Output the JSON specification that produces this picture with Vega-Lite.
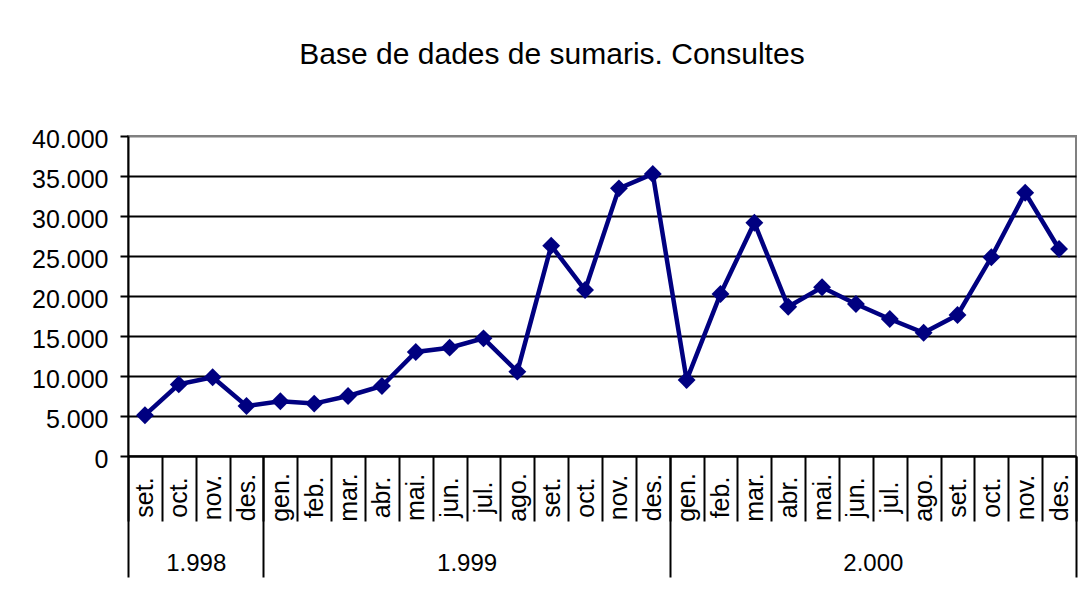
{
  "$schema": "https://vega.github.io/schema/vega-lite/v6.json",
  "width": 948,
  "height": 320,
  "autosize": {"type": "none"},
  "padding": {"left": 128, "top": 136, "right": 9, "bottom": 143},
  "background": "white",
  "title": {
    "text": "Base de dades de sumaris. Consultes",
    "font": "Liberation Sans",
    "fontSize": 30,
    "fontWeight": "normal",
    "color": "black",
    "anchor": "middle",
    "frame": "group",
    "dx": -50,
    "offset": 57
  },
  "config": {
    "locale": {"number": {"decimal": ",", "thousands": ".", "grouping": [3], "currency": ["", " €"]}},
    "view": {"stroke": "#808080", "strokeWidth": 2},
    "font": "Liberation Sans"
  },
  "layer": [
    {
      "data": {"values": [
        {"periode": "set. 1998", "consultes": 5100},
        {"periode": "oct. 1998", "consultes": 8950},
        {"periode": "nov. 1998", "consultes": 9850},
        {"periode": "des. 1998", "consultes": 6250},
        {"periode": "gen. 1999", "consultes": 6850},
        {"periode": "feb. 1999", "consultes": 6550},
        {"periode": "mar. 1999", "consultes": 7500},
        {"periode": "abr. 1999", "consultes": 8750},
        {"periode": "mai. 1999", "consultes": 13000},
        {"periode": "jun. 1999", "consultes": 13540},
        {"periode": "jul. 1999", "consultes": 14710},
        {"periode": "ago. 1999", "consultes": 10540},
        {"periode": "set. 1999", "consultes": 26290},
        {"periode": "oct. 1999", "consultes": 20750},
        {"periode": "nov. 1999", "consultes": 33460},
        {"periode": "des. 1999", "consultes": 35250},
        {"periode": "gen. 2000", "consultes": 9500},
        {"periode": "feb. 2000", "consultes": 20250},
        {"periode": "mar. 2000", "consultes": 29160},
        {"periode": "abr. 2000", "consultes": 18660},
        {"periode": "mai. 2000", "consultes": 21090},
        {"periode": "jun. 2000", "consultes": 19000},
        {"periode": "jul. 2000", "consultes": 17125},
        {"periode": "ago. 2000", "consultes": 15410},
        {"periode": "set. 2000", "consultes": 17625},
        {"periode": "oct. 2000", "consultes": 24840},
        {"periode": "nov. 2000", "consultes": 32910},
        {"periode": "des. 2000", "consultes": 25875}
      ]},
      "encoding": {
        "x": {
          "field": "periode",
          "type": "ordinal",
          "sort": null,
          "scale": {"type": "band", "paddingInner": 0, "paddingOuter": 0},
          "axis": {
            "orient": "bottom",
            "title": null,
            "labelExpr": "split(datum.label, ' ')[0]",
            "labelAngle": 270,
            "labelAlign": "center",
            "labelBaseline": "middle",
            "labelPadding": -24,
            "labelFontSize": 25,
            "labelColor": "black",
            "labelOverlap": false,
            "tickBand": "extent",
            "tickSize": 65,
            "tickColor": "black",
            "tickWidth": 2,
            "domainColor": "black",
            "domainWidth": 2,
            "grid": false
          }
        },
        "y": {
          "field": "consultes",
          "type": "quantitative",
          "scale": {"domain": [0, 40000], "nice": false},
          "axis": {
            "title": null,
            "values": [0, 5000, 10000, 15000, 20000, 25000, 30000, 35000, 40000],
            "format": ",d",
            "labelFontSize": 25,
            "labelColor": "black",
            "labelPadding": 12,
            "labelOffset": 3,
            "tickSize": 8,
            "tickColor": "black",
            "tickWidth": 2,
            "domainColor": "black",
            "domainWidth": 2,
            "grid": true,
            "gridColor": {"condition": {"test": "datum.value >= 40000", "value": "#808080"}, "value": "black"},
            "gridWidth": 2
          }
        }
      },
      "layer": [
        {"mark": {"type": "line", "color": "#000080", "strokeWidth": 4.5}},
        {"mark": {"type": "point", "shape": "diamond", "filled": true, "color": "#000080", "size": 320, "opacity": 1}}
      ]
    },
    {
      "data": {"values": [
        {"any": "1.998", "inici": 0, "fi": 4, "mig": 2},
        {"any": "1.999", "inici": 4, "fi": 16, "mig": 10},
        {"any": "2.000", "inici": 16, "fi": 28, "mig": 22}
      ]},
      "mark": {"type": "point", "opacity": 0},
      "encoding": {
        "x": {
          "field": "inici",
          "type": "quantitative",
          "scale": {"domain": [0, 28], "nice": false, "zero": false},
          "axis": {
            "orient": "bottom",
            "title": null,
            "values": [0, 4, 16, 28],
            "labels": false,
            "domain": false,
            "grid": false,
            "tickSize": 121,
            "tickColor": "black",
            "tickWidth": 2
          }
        }
      }
    },
    {
      "data": {"values": [
        {"any": "1.998", "inici": 0, "fi": 4, "mig": 2},
        {"any": "1.999", "inici": 4, "fi": 16, "mig": 10},
        {"any": "2.000", "inici": 16, "fi": 28, "mig": 22}
      ]},
      "mark": {"type": "point", "opacity": 0},
      "encoding": {
        "x": {
          "field": "mig",
          "type": "quantitative",
          "scale": {"domain": [0, 28], "nice": false, "zero": false},
          "axis": {
            "orient": "bottom",
            "title": null,
            "values": [2, 10, 22],
            "labelExpr": "datum.value == 2 ? '1.998' : datum.value == 10 ? '1.999' : '2.000'",
            "ticks": false,
            "tickSize": 0,
            "domain": false,
            "grid": false,
            "labelPadding": 107,
            "labelBaseline": "middle",
            "labelFontSize": 24,
            "labelColor": "black"
          }
        }
      }
    }
  ],
  "resolve": {"scale": {"x": "independent"}, "axis": {"x": "independent"}}
}
